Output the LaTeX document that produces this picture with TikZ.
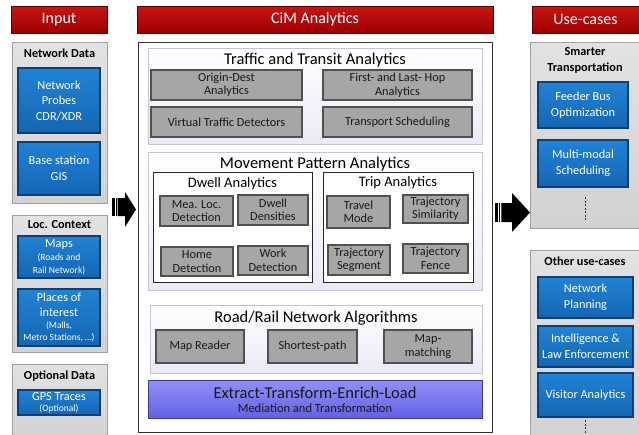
\documentclass[tikz,border=0pt]{standalone}
\usepackage{fontspec}
\setmainfont{Carlito}
\usetikzlibrary{shadows}
\definecolor{redtop}{HTML}{C81414}
\definecolor{redbot}{HTML}{A00000}
\definecolor{redline}{HTML}{5A0000}
\definecolor{bluetop}{HTML}{2282D4}
\definecolor{bluebot}{HTML}{1466B4}
\definecolor{blueline}{HTML}{0B3F78}
\definecolor{grayfill}{HTML}{A6A6A6}
\definecolor{grayline}{HTML}{505050}
\definecolor{paneltop}{HTML}{E2E2E2}
\definecolor{panelbot}{HTML}{D2D2D2}
\definecolor{panelline}{HTML}{A0A0A0}
\definecolor{midbot}{HTML}{EAEAF6}
\definecolor{midline}{HTML}{C4C4D4}
\definecolor{eteltop}{HTML}{9090F6}
\definecolor{etelbot}{HTML}{6262E4}
\definecolor{etelline}{HTML}{3A3AA0}
\newcommand\mybox[7]{\node[#1, minimum width={#5-#3}, minimum height={#6-#4}] (#2) at ({(#3+#5)/2},{(#4+#6)/2}) {#7};}
\newcommand\smalltxt{\fontsize{9.5}{12}\selectfont}
\begin{document}
\begin{tikzpicture}[x=1pt,y=-1pt,
  hdr/.style={draw=redline, line width=1pt, top color=redtop, bottom color=redbot, text=white, font=\fontsize{16}{18}\selectfont, inner sep=0pt},
  sidepanel/.style={draw=panelline, line width=0.6pt, top color=paneltop, bottom color=panelbot, inner sep=0pt, drop shadow={shadow xshift=1.2pt, shadow yshift=-1.2pt, opacity=0.35}},
  midpanel/.style={draw=midline, line width=0.6pt, top color=white, bottom color=midbot, inner sep=0pt, drop shadow={shadow xshift=1.2pt, shadow yshift=-1.2pt, opacity=0.3}},
  subpanel/.style={draw=black!85, line width=0.8pt, fill=white, inner sep=0pt},
  bluebox/.style={draw=blueline, line width=1.2pt, top color=bluetop, bottom color=bluebot, text=white, align=center, inner sep=0pt, font=\fontsize{12.3}{15.5}\selectfont, drop shadow={shadow xshift=0.8pt, shadow yshift=-1pt, opacity=0.4}},
  graybox/.style={draw=grayline, line width=1.2pt, fill=grayfill, text=black!90, align=center, inner sep=0pt, font=\fontsize{12.3}{13.5}\selectfont, drop shadow={shadow xshift=0.8pt, shadow yshift=-1pt, opacity=0.4}},
  ptitle/.style={font=\bfseries\fontsize{12.3}{16}\selectfont, align=center, inner sep=0pt},
  mtitle/.style={font=\fontsize{16.5}{18}\selectfont, inner sep=0pt},
  stitle/.style={font=\fontsize{14.5}{16}\selectfont, inner sep=0pt},
  dashline/.style={draw=black!80, line width=0.8pt, dash pattern=on 2pt off 1.5pt}
]
\useasboundingbox (0,0) rectangle (639,434);
\fill[white] (0,0) rectangle (639,434);

% ---------- headers
\mybox{hdr}{hin}{11}{6}{107}{33}{Input}
\mybox{hdr}{hcim}{137}{6}{493}{33}{CiM Analytics}
\mybox{hdr}{huse}{532}{6}{645}{33}{\hspace*{-6pt}Use-cases}

% ---------- Input column
\mybox{sidepanel}{pnet}{12}{42}{107}{203}{}
\node[ptitle] (tnet) at (59.5,53) {Network Data};
\mybox{bluebox}{probes}{18}{68}{100}{133}{Network\\Probes\\CDR/XDR}
\mybox{bluebox}{bsgis}{18}{142}{100}{195}{Base station\\GIS}

\mybox{sidepanel}{ploc}{12}{215}{107}{352}{}
\node[ptitle] (tloc) at (59.5,225) {Loc. Context};
\mybox{bluebox}{maps}{18}{236}{100}{278}{Maps\\[-2.5pt]{\smalltxt(Roads and}\\[-3pt]{\smalltxt Rail Network)}}
\mybox{bluebox}{poi}{18}{289}{100}{346}{Places of\\[-1pt]interest\\[-3pt]{\smalltxt(Malls,}\\[-3.5pt]{\smalltxt Metro Stations, …)}}

\mybox{sidepanel}{popt}{12}{364}{107}{440}{}
\node[ptitle] (topt) at (59.5,376) {Optional Data};
\mybox{bluebox}{gps}{18}{390}{100}{415}{GPS Traces\\[-4.5pt]{\smalltxt(Optional)}}

% ---------- main frame
\mybox{draw=black!80, line width=1pt, fill=white, inner sep=0pt}{frame}{138}{42}{492}{432}{}

% Traffic and Transit
\mybox{midpanel}{ptraffic}{148}{48}{482}{144}{}
\node[mtitle] (ttraffic) at (315,60) {Traffic and Transit Analytics};
\mybox{graybox}{od}{151}{70}{302}{100}{Origin-Dest\\Analytics}
\mybox{graybox}{flh}{323}{70}{472}{100}{First- and Last- Hop\\Analytics}
\mybox{graybox}{vtd}{151}{107}{302}{137}{Virtual Traffic Detectors}
\mybox{graybox}{tsch}{323}{107}{472}{137}{Transport Scheduling}

% Movement Pattern
\mybox{midpanel}{pmove}{148}{152}{482}{290}{}
\node[mtitle] (tmove) at (315,164) {Movement Pattern Analytics};
\mybox{subpanel}{pdwell}{153}{172}{312}{282}{}
\node[stitle] (tdwell) at (232.5,184) {Dwell Analytics};
\mybox{graybox}{mea}{160}{196}{233}{226}{Mea. Loc.\\Detection}
\mybox{graybox}{dden}{238}{195}{308}{225}{Dwell\\Densities}
\mybox{graybox}{home}{161}{247}{233}{276}{Home\\Detection}
\mybox{graybox}{work}{238}{246}{308}{275}{Work\\Detection}
\mybox{subpanel}{ptrip}{323}{172}{473}{282}{}
\node[stitle] (ttrip) at (398,183) {Trip Analytics};
\mybox{graybox}{tmode}{327}{196}{390}{228}{Travel\\Mode}
\mybox{graybox}{tsim}{403}{195}{468}{223}{Trajectory\\Similarity}
\mybox{graybox}{tseg}{328}{245}{390}{275}{Trajectory\\Segment}
\mybox{graybox}{tfen}{403}{244}{468}{273}{Trajectory\\Fence}

% Road/Rail
\mybox{midpanel}{proad}{150}{305}{482}{373}{}
\node[mtitle] (troad) at (316,318) {Road/Rail Network Algorithms};
\mybox{graybox}{mread}{156}{330}{244}{363}{Map Reader}
\mybox{graybox}{spath}{268}{330}{357}{363}{Shortest-path}
\mybox{graybox}{mmatch}{384}{330}{472}{363}{Map-\\matching}

% ETEL
\mybox{draw=etelline, line width=1pt, top color=eteltop, bottom color=etelbot, inner sep=0pt}{etel}{148}{380}{482}{418}{}
\node[mtitle, text=black!90] (tetel) at (315,393) {Extract-Transform-Enrich-Load};
\node[font=\fontsize{12.5}{14}\selectfont, text=black!90, inner sep=0pt] (setel) at (315,408.5) {Mediation and Transformation};

% ---------- Use-cases column
\mybox{sidepanel}{psmart}{530}{42}{645}{228}{}
\node[ptitle] (tsmart) at (585,60.5) {Smarter\\Transportation};
\mybox{bluebox}{feeder}{538}{82}{628}{128}{Feeder Bus\\Optimization}
\mybox{bluebox}{multi}{538}{140}{628}{187}{Multi-modal\\Scheduling}
\coordinate (d1a) at (585,197);
\coordinate (d1b) at (585,220);
\draw[dashline] (d1a) -- (d1b);

\mybox{sidepanel}{pother}{530}{250}{645}{440}{}
\node[ptitle] (tother) at (585,261) {Other use-cases};
\mybox{bluebox}{netplan}{538}{277}{633}{318}{Network\\Planning}
\mybox{bluebox}{intel}{538}{326}{633}{367}{Intelligence \&\\Law Enforcement}
\mybox{bluebox}{visit}{538}{373}{633}{417}{Visitor Analytics}
\coordinate (d2a) at (585,420);
\coordinate (d2b) at (585,434);
\draw[dashline] (d2a) -- (d2b);

% ---------- striped block arrows
\fill[black] (112,198) rectangle (114.6,216);
\fill[black] (115.6,198) rectangle (116.6,216);
\fill[black] (117.6,198) -- (125,198) -- (125,192) -- (136,209.5) -- (125,227) -- (125,216) -- (117.6,216) -- cycle;

\fill[black] (495,203) rectangle (498,222);
\fill[black] (499,203) rectangle (500.4,222);
\fill[black] (501.4,203) -- (512,203) -- (512,193) -- (530,212.5) -- (512,232) -- (512,222) -- (501.4,222) -- cycle;
\end{tikzpicture}
\end{document}
